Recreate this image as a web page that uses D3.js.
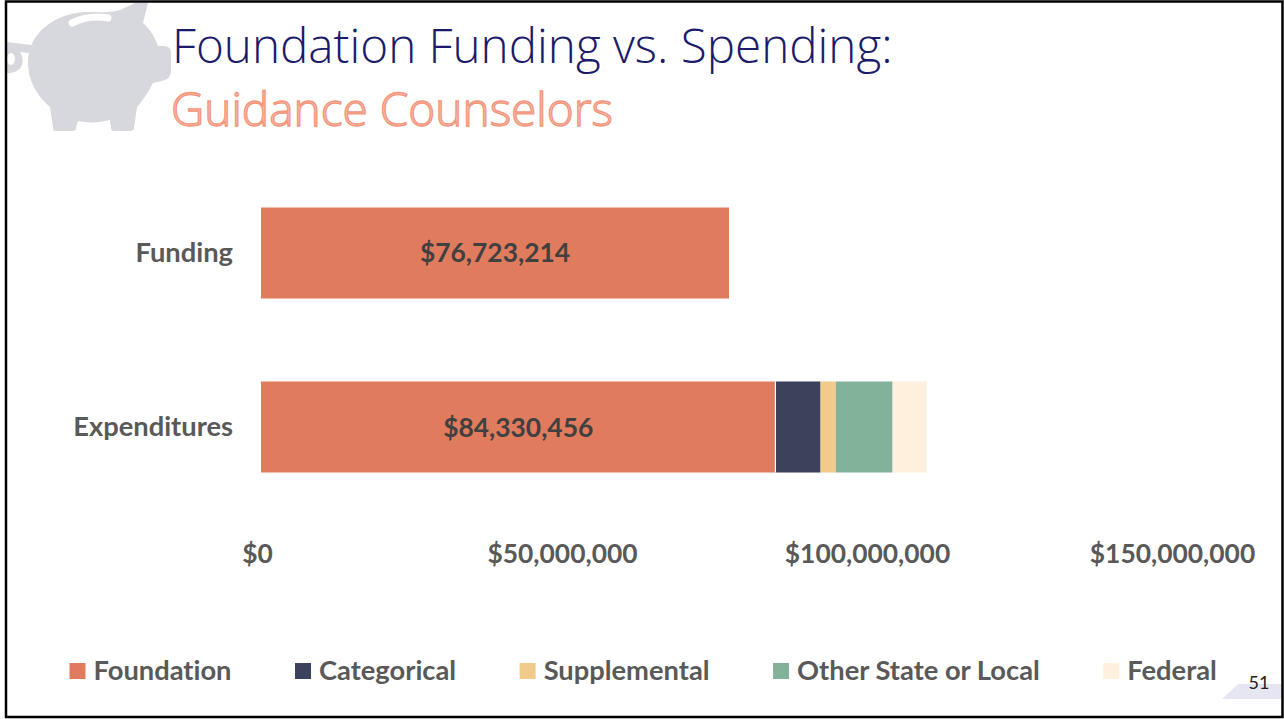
<!DOCTYPE html>
<html lang="en">
<head>
<meta charset="UTF-8">
<title>Foundation Funding vs. Spending: Guidance Counselors</title>
<script src="https://d3js.org/d3.v7.min.js"></script>
<style>
  html, body { margin: 0; padding: 0; background: #fff; }
  svg { display: block; }
  text { font-family: Lato, Carlito, sans-serif; font-variant-ligatures: none; }
</style>
</head>
<body>
<svg width="1284" height="719"></svg>
<script>
var categories = ["Funding", "Expenditures"];
var seriesNames = ["Foundation", "Categorical", "Supplemental", "Other State or Local", "Federal"];
var foundation = [76723214, 84330456];
var categorical = [0, 7400000];
var supplemental = [0, 2500000];
var otherStateLocal = [0, 9300000];
var federal = [0, 5600000];
var tickValues = [0, 50000000, 100000000, 150000000];
var colors = ["#e07b5d", "#3c415c", "#f2ca8c", "#82b299", "#fef0dc"];

var svg = d3.select("svg");
var allSeries = [foundation, categorical, supplemental, otherStateLocal, federal];
var money = d3.format("$,");

// piggy bank in the corner
var pig = svg.append("g").attr("fill", "#d7d8de");
pig.append("path").attr("d", "M148,3 L143,23 C151,30 155,38 158,46 L165,46 C170,47 171,50 171,54 L171,71 C171,77 167,80 162,81 L153,83 C148,93 142,101 137,107 L134,128 C134,130 132,131 130,131 L114,131 C112,131 111,130 111,128 L110,120 C98,123 88,123 78,121 L76,128 C76,130 75,131 72,131 L56,131 C54,131 53,130 53,127 L50,107 C36,95 28,80 28,62 C28,33 56,12 88,12 C100,12 112,13 120,10 L135,3 Z");
pig.append("path")
  .attr("d", "M6,42 L32,45 L29,53 L20,52 C26,62 22,74 6,73 Z");
pig.append("ellipse").attr("cx", 11).attr("cy", 59).attr("rx", 4).attr("ry", 6).attr("fill", "#fff");
pig.append("path")
  .attr("d", "M72,23 C84,17 97,16 108,18")
  .attr("fill", "none")
  .attr("stroke", "#fff")
  .attr("stroke-width", 7)
  .attr("stroke-linecap", "round");

// corner shape behind the page number
svg.append("polygon")
  .attr("points", "1222,699 1238,684 1282,684 1282,699")
  .attr("fill", "#e6e6f3");

svg.append("text")
  .attr("x", 172).attr("y", 63)
  .attr("fill", "#1b1b6b")
  .style("font-family", "'Open Sans'")
  .style("font-weight", 300)
  .style("font-size", "47.6px")
  .text("Foundation Funding vs. Spending:");

svg.append("text")
  .attr("x", 171).attr("y", 126)
  .attr("fill", "#fdbcaa")
  .attr("stroke", "#f3967c")
  .attr("stroke-width", 1.3)
  .style("font-family", "'Open Sans'")
  .style("font-weight", 300)
  .style("font-size", "46px")
  .text("Guidance Counselors");

var x = d3.scaleLinear().domain([0, 150000000]).range([261, 1176]);
var y = d3.scaleBand().domain(categories).range([166, 514]).paddingInner(0.477).paddingOuter(0.2385);

// stacked bars
var stacked = categories.map(function(c, i) {
  var start = 0;
  return allSeries.map(function(s, k) {
    var d = { category: c, k: k, x0: start, x1: start + s[i] };
    start += s[i];
    return d;
  });
});

svg.append("g").selectAll("g")
  .data(stacked)
  .join("g")
  .selectAll("rect")
  .data(function(d) { return d.filter(function(e) { return e.x1 > e.x0; }); })
  .join("rect")
  .attr("x", function(d) { return x(d.x0); })
  .attr("y", function(d) { return y(d.category); })
  .attr("width", function(d) { return x(d.x1) - x(d.x0); })
  .attr("height", y.bandwidth())
  .attr("fill", function(d) { return colors[d.k]; });

// thin white gap after the foundation segment
svg.append("line")
  .attr("x1", x(foundation[1])).attr("x2", x(foundation[1]))
  .attr("y1", y("Expenditures")).attr("y2", y("Expenditures") + y.bandwidth())
  .attr("stroke", "#fff").attr("stroke-width", 1.2);

svg.append("g").selectAll("text")
  .data(categories)
  .join("text")
  .attr("x", function(d, i) { return x(foundation[i] / 2); })
  .attr("y", function(d, i) { return y(d) + y.bandwidth() / 2 + 9 + i; })
  .attr("text-anchor", "middle")
  .attr("fill", "#404040")
  .style("font-weight", 700)
  .style("font-size", "26.4px")
  .text(function(d, i) { return money(foundation[i]); });

// axes, lines hidden
var yAxis = svg.append("g")
  .attr("transform", "translate(233,0)")
  .call(d3.axisLeft(y).tickSize(0).tickPadding(0));
yAxis.select(".domain").remove();
yAxis.selectAll("text")
  .attr("fill", "#595959")
  .style("font-family", "Lato")
  .style("font-weight", 700)
  .style("font-size", "27.3px");

var xAxis = svg.append("g")
  .attr("transform", "translate(-4,544)")
  .call(d3.axisBottom(x).tickValues(tickValues).tickSize(0).tickPadding(0).tickFormat(money));
xAxis.select(".domain").remove();
xAxis.selectAll("text")
  .attr("fill", "#595959")
  .style("font-family", "Lato")
  .style("font-weight", 700)
  .style("font-size", "26.4px");

// legend, laid out from the measured label widths
var legendX = 69.5;
seriesNames.forEach(function(name, i) {
  var g = svg.append("g").attr("transform", "translate(" + legendX + ",663)");
  g.append("rect").attr("width", 16).attr("height", 16).attr("fill", colors[i]);
  var t = g.append("text")
    .attr("x", 24).attr("y", 17)
    .attr("fill", "#595959")
    .style("font-weight", 700)
    .style("font-size", "27.3px")
    .text(name);
  legendX += 24 + t.node().getComputedTextLength() + 63.5;
});

svg.append("text")
  .attr("x", 1259).attr("y", 689)
  .attr("text-anchor", "middle")
  .attr("fill", "#222")
  .style("font-size", "18px")
  .text("51");

// slide border
svg.append("path")
  .attr("d", "M6,1.5 H1282.5 V717 H6 Z")
  .attr("fill", "none")
  .attr("stroke", "#000")
  .attr("stroke-width", 2.5);
</script>
</body>
</html>
